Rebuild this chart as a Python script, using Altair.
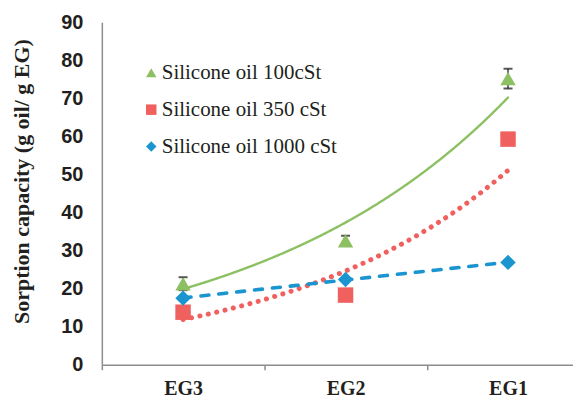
import altair as alt
import pandas as pd

# ---- data ----
categories = ["EG3", "EG2", "EG1"]
series_names = ["Silicone oil 100cSt", "Silicone oil 350 cSt", "Silicone oil 1000 cSt"]
oil_100 = [21.3, 32.6, 75.2]
oil_350 = [13.8, 18.3, 59.3]
oil_1000 = [17.5, 22.4, 26.9]
err_100 = [1.7, 1.3, 2.6]
err_350 = [0.8, 0.6, 1.4]
err_1000 = [0.4, 0.4, 0.4]
trend_kinds = ["exp", "exp", "linear"]
y_ticks = list(range(0, 91, 10))

colors = ["#8DC063", "#F0605F", "#1B95CF"]
shapes = ["triangle-up", "square", "diamond"]
dashes = [[1, 0], [0.1, 8.5], [8, 10]]
widths = [2.4, 5, 3.6]

rows = []
for s, vals, errs, kind in zip(series_names, [oil_100, oil_350, oil_1000],
                               [err_100, err_350, err_1000], trend_kinds):
    for i, (c, v, e) in enumerate(zip(categories, vals, errs)):
        rows.append({"category": c, "pos": i + 1, "series": s,
                     "value": v, "err": e, "kind": kind})
df = pd.DataFrame(rows)

text_color = "#231f20"
axis_color = "#8c8c8c"
serif = "Liberation Serif, Times New Roman, serif"

label_expr = "[" + ",".join("'%s'" % c for c in categories) + "][datum.value - 1] || ''"
tick_vals = [0.5 + 0.5 * k for k in range(2 * len(categories))]

x_axis = alt.Axis(title=None, values=tick_vals, labelExpr=label_expr, grid=False,
                  tickSize=5, tickColor=axis_color, tickWidth=1.5,
                  tickOpacity={"condition": {"test": "datum.value % 1 === 0", "value": 0}, "value": 1},
                  domainColor=axis_color, domainWidth=1.5,
                  labelFont=serif, labelFontWeight="bold", labelFontSize=20,
                  labelColor=text_color, labelPadding=9, labelOverlap=False, labelFlush=False)
x_scale = alt.Scale(domain=[0.5, 3.4], nice=False, zero=False)

y_axis = alt.Axis(values=y_ticks, title="Sorption capacity (g oil/ g EG)",
                  titleFont=serif, titleFontSize=22, titleFontWeight="bold",
                  titleColor=text_color, titlePadding=27, titleY=159,
                  labelFont="Liberation Sans", labelFontWeight="bold", labelFontSize=20,
                  labelColor=text_color, ticks=False, tickSize=0, labelPadding=19,
                  grid=False, domainColor=axis_color, domainWidth=1.5)
y_scale = alt.Scale(domain=[0, 90], nice=False)

base = alt.Chart(df)


def trend_layer(idx):
    # Excel-style least-squares trendline (exponential fitted on log scale, or linear)
    return base.transform_filter(
        alt.datum.series == series_names[idx]
    ).transform_calculate(
        ty="datum.kind === 'exp' ? log(datum.value) : datum.value"
    ).transform_joinaggregate(
        mx="mean(pos)", my="mean(ty)", groupby=["series"]
    ).transform_calculate(
        pxy="(datum.pos - datum.mx) * (datum.ty - datum.my)"
    ).transform_calculate(
        pxx="(datum.pos - datum.mx) * (datum.pos - datum.mx)"
    ).transform_aggregate(
        sxy="sum(pxy)", sxx="sum(pxx)", mx="max(mx)", my="max(my)", groupby=["series", "kind"]
    ).transform_calculate(
        b="datum.sxy / datum.sxx"
    ).transform_calculate(
        a="datum.my - datum.b * datum.mx"
    ).transform_calculate(
        xs="sequence(1, 3.0001, 0.05)"
    ).transform_flatten(["xs"]).transform_calculate(
        fit="datum.kind === 'exp' ? exp(datum.a + datum.b * datum.xs) : datum.a + datum.b * datum.xs"
    ).mark_line(strokeCap="round", strokeJoin="round", color=colors[idx],
                strokeDash=dashes[idx], strokeWidth=widths[idx]).encode(
        x=alt.X("xs:Q", scale=x_scale, axis=x_axis),
        y=alt.Y("fit:Q", scale=y_scale, axis=y_axis),
    )


err_base = base.transform_calculate(lo="datum.value - datum.err", hi="datum.value + datum.err")
err_rule = err_base.mark_rule(color="#444444", strokeWidth=1.5).encode(
    x=alt.X("pos:Q", scale=x_scale, axis=x_axis),
    y=alt.Y("lo:Q", scale=y_scale, axis=y_axis),
    y2="hi:Q",
)
cap_hi = err_base.mark_tick(color="#111111", orient="horizontal", size=9, thickness=2).encode(
    x=alt.X("pos:Q", scale=x_scale, axis=x_axis),
    y=alt.Y("hi:Q", scale=y_scale, axis=y_axis),
)
cap_lo = err_base.mark_tick(color="#111111", orient="horizontal", size=9, thickness=2).encode(
    x=alt.X("pos:Q", scale=x_scale, axis=x_axis),
    y=alt.Y("lo:Q", scale=y_scale, axis=y_axis),
)

legend = alt.Legend(title=None, orient="none", legendX=39, legendY=40,
                    labelFont=serif, labelFontSize=21, labelColor=text_color,
                    labelFontWeight="normal", labelLimit=400,
                    symbolSize=110, rowPadding=15, labelOffset=0, padding=0)

points = base.mark_point(filled=True, size=240, opacity=1).encode(
    x=alt.X("pos:Q", scale=x_scale, axis=x_axis),
    y=alt.Y("value:Q", scale=y_scale, axis=y_axis),
    color=alt.Color("series:N", scale=alt.Scale(domain=series_names, range=colors), legend=legend),
    shape=alt.Shape("series:N", scale=alt.Scale(domain=series_names, range=shapes), legend=legend),
)

chart = alt.layer(trend_layer(0), trend_layer(1), trend_layer(2),
                  err_rule, cap_hi, cap_lo, points).properties(
    width=472, height=343,
    autosize=alt.AutoSizeParams(type="none"),
    padding={"left": 94, "top": 14, "right": 0, "bottom": 34},
    background="white",
).configure_view(stroke=None).configure_legend(
    labelFont=serif, labelFontSize=21, labelLimit=400, labelColor=text_color
)

chart.save("out.html", embed_options={"renderer": "svg", "actions": False})
